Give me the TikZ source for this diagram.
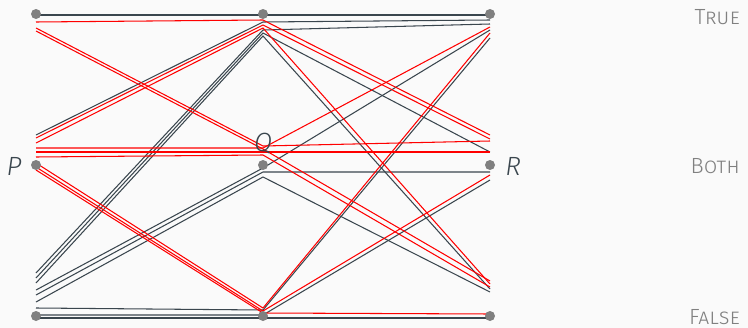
\documentclass[tikz,border=0pt]{standalone}
\usepackage{fontspec}
\setmainfont{Fira Sans}[UprightFont=* Light,ItalicFont=* Light Italic]
\usetikzlibrary{calc}
\definecolor{slate}{RGB}{58,70,78}
\definecolor{dotgray}{RGB}{128,128,128}
\definecolor{bgwash}{RGB}{250,250,250}
\definecolor{hot}{RGB}{255,0,0}

\begin{document}
\begin{tikzpicture}[
  x=0.02cm,y=-0.02cm,
  line join=miter,
  blk/.style={draw=slate,line width=.6pt},
  hotline/.style={draw=hot,line width=.6pt},
  val/.style={circle,fill=dotgray,inner sep=0pt,minimum size=0.2cm},
  var/.style={font=\fontsize{15}{15}\selectfont\itshape,text=slate},
  truth/.style={font=\fontsize{12.5}{12.5}\selectfont,text=dotgray,anchor=east}
]
\fill[bgwash] (0,0) rectangle (748,328);
\useasboundingbox (0,0) rectangle (748,328);

% value points, one column per variable
\coordinate (pT) at (36,14);  \coordinate (qT) at (263,14);  \coordinate (rT) at (490,14);
\coordinate (pB) at (36,165); \coordinate (qB) at (263,165); \coordinate (rB) at (490,165);
\coordinate (pF) at (36,316); \coordinate (qF) at (263,316); \coordinate (rF) at (490,316);

% valuations: height at P / at Q / at R
\foreach \a/\b/\c in {
  15/15/15, 135/22/20, 273/30/24, 278/33/152, 283/36/289,
  290/168/30, 295/172/172, 302/177/292,
  308/310/38, 315/315/180, 318/318/318}
  \draw[blk] (pT |- 0,\a) -- (qT |- 0,\b) -- (rT |- 0,\c);
\foreach \a/\b/\c in {
  22/20/135, 28/146/141, 31/149/281,
  138/25/139, 143/28/284,
  148/148/27, 152/152/152, 157/155/287,
  163/308/33, 167/311/175, 170/313/314}
  \draw[hotline] (pT |- 0,\a) -- (qT |- 0,\b) -- (rT |- 0,\c);

% dots on top
\foreach \n in {pT,qT,rT,pB,qB,rB,pF,qF,rF}
  \node[val] (d\n) at (\n) {};

% variable names
\node[var] (labP) at (14,166) {P};
\node[var] (labQ) at (263,144) {Q};
\node[var] (labR) at (513,166) {R};

% truth values
\node[truth] (lT) at (746,17) {\textsc{True}};
\node[truth] (lB) at (746,166) {\textsc{Both}};
\node[truth] (lF) at (746,317) {\textsc{False}};
\end{tikzpicture}
\end{document}
